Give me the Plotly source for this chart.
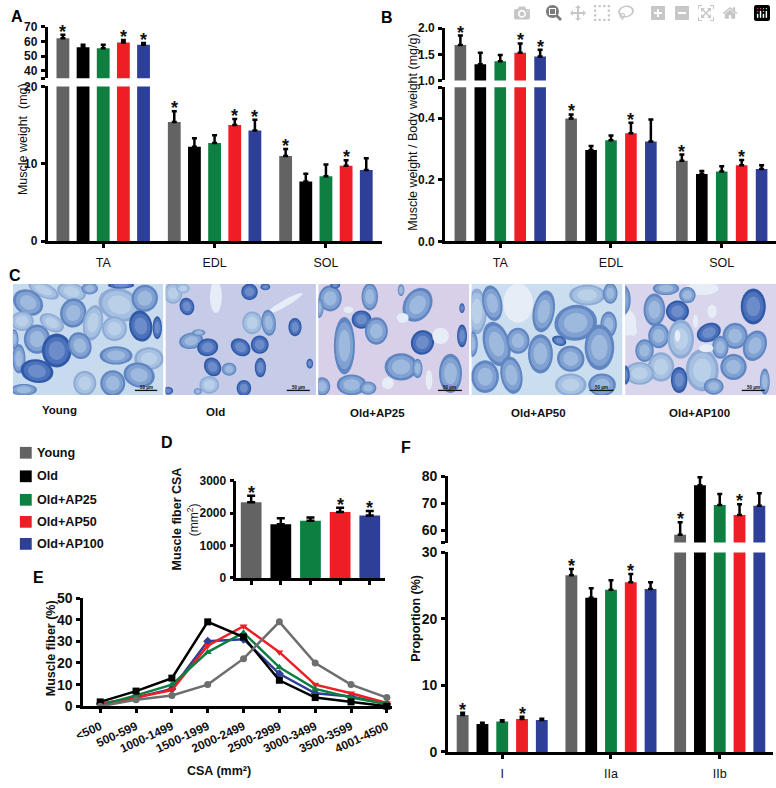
import math
import plotly.graph_objects as go

W, H = 776, 788
FONT = "Liberation Sans"

# ---------- shared ----------
series_names = ["Young", "Old", "Old+AP25", "Old+AP50", "Old+AP100"]
series_colors = ["#636363", "#000000", "#0d7f41", "#ed1f24", "#2e3f97"]
line_colors = ["#6e6e6e", "#000000", "#0d7f41", "#ed1f24", "#2e3f97"]
line_symbols = ["circle", "square", "triangle-up", "triangle-down", "diamond"]

# ---------- panel A ----------
muscles = ["TA", "EDL", "SOL"]
a_mean_young = [62.2, 15.4, 11.0]
a_mean_old = [56.2, 12.2, 7.7]
a_mean_ap25 = [55.5, 12.7, 8.4]
a_mean_ap50 = [59.3, 15.0, 9.75]
a_mean_ap100 = [57.8, 14.3, 9.2]
a_err_young = [2.5, 1.4, 0.9]
a_err_old = [1.6, 1.1, 1.0]
a_err_ap25 = [2.3, 1.0, 1.5]
a_err_ap50 = [1.7, 0.8, 0.7]
a_err_ap100 = [1.3, 1.4, 1.5]
a_stars = [[1, 0, 0, 1, 1], [1, 0, 0, 1, 1], [1, 0, 0, 1, 0]]

# ---------- panel B ----------
b_mean_young = [1.68, 0.399, 0.262]
b_mean_old = [1.31, 0.297, 0.219]
b_mean_ap25 = [1.37, 0.328, 0.227]
b_mean_ap50 = [1.53, 0.351, 0.247]
b_mean_ap100 = [1.46, 0.324, 0.235]
b_err_young = [0.18, 0.013, 0.02]
b_err_old = [0.22, 0.013, 0.01]
b_err_ap25 = [0.12, 0.016, 0.017]
b_err_ap50 = [0.18, 0.034, 0.017]
b_err_ap100 = [0.13, 0.072, 0.012]
b_stars = [[1, 0, 0, 1, 1], [1, 0, 0, 1, 0], [1, 0, 0, 1, 0]]

# ---------- panel D ----------
d_mean = [2343, 1657, 1768, 2040, 1929]
d_err = [200, 190, 100, 132, 141]
d_stars = [1, 0, 0, 1, 1]

# ---------- panel E ----------
csa_bins = ["<500", "500-599", "1000-1499", "1500-1999", "2000-2499",
            "2500-2999", "3000-3499", "3500-3599", "4001-4500"]
e_young = [0, 3, 5, 10, 22, 39, 20, 10, 4]
e_old = [2, 7, 13, 39, 32, 12, 4, 2, 0]
e_ap25 = [0.5, 5, 10, 25, 34, 18, 8, 4, 1]
e_ap50 = [1, 4, 7.5, 28, 37, 25, 10, 6, 1.5]
e_ap100 = [1, 4, 8, 30, 31, 15, 6, 4.5, 1]

# ---------- panel F ----------
fiber_types = ["I", "IIa", "IIb"]
f_mean_young = [5.55, 26.56, 58.4]
f_mean_old = [4.2, 23.2, 76.6]
f_mean_ap25 = [4.57, 24.4, 69.3]
f_mean_ap50 = [4.96, 25.5, 65.7]
f_mean_ap100 = [4.8, 24.5, 69.1]
f_err_young = [0.35, 0.95, 4.6]
f_err_old = [0.2, 1.4, 2.9]
f_err_ap25 = [0.2, 1.4, 4.1]
f_err_ap50 = [0.34, 1.25, 3.9]
f_err_ap100 = [0.2, 1.0, 4.6]
f_stars = [[1, 0, 0, 1, 0], [1, 0, 0, 1, 0], [1, 0, 0, 1, 0]]

# ---------- panel C: hand-traced fibres per micrograph ----------
# (cx, cy, rx, ry, angle, tone) in 3x crop coordinates of each picture
c_fibres_young = [
    (105,30,50,22,25,0),(58,68,48,38,30,1),(190,35,45,28,15,0),(245,25,25,18,0,1),(195,100,40,45,10,1),
    (335,75,65,50,20,0),(412,55,40,42,20,1),(400,140,35,48,-10,2),(255,130,30,55,10,0),(320,148,38,38,0,0),
    (40,125,35,30,0,0),(130,130,40,25,30,0),(85,180,40,45,0,1),(145,215,45,52,0,2),(215,200,35,42,-20,1),
    (30,240,20,45,0,1),(85,278,50,36,10,2),(325,230,50,28,0,1),(425,240,45,35,0,0),(395,290,48,38,15,1),
    (230,315,35,38,0,0),(315,315,38,40,0,1),(45,335,40,18,0,1),(15,180,14,30,0,1),(450,145,14,35,0,2),(340,15,40,10,0,2),
]
c_fibres_old = [
    (160,50,18,50,0,-1),(370,70,60,10,-30,-1),(30,40,28,32,0,0),(60,25,20,15,0,0),(270,130,30,35,0,0),
    (140,320,30,27,0,0),(72,80,22,27,-15,2),(262,35,25,25,20,2),(310,20,15,10,0,2),(320,130,22,40,-5,1),
    (400,143,20,28,0,2),(235,205,32,25,35,2),(293,197,27,28,0,2),(85,185,37,25,-10,1),(108,160,20,10,0,1),
    (135,205,32,27,-10,2),(150,265,25,30,-30,2),(200,272,22,20,0,1),(295,267,17,30,0,2),(245,330,22,25,0,2),
    (15,338,15,12,0,2),(105,340,12,10,0,1),(445,255,10,15,0,2),
]
c_fibres_ap25 = [
    (45,55,35,40,0,1),(10,85,15,30,0,1),(165,50,25,42,0,1),(140,120,30,28,0,2),(185,155,35,42,0,1),
    (88,200,32,88,0,1),(325,190,35,38,20,2),(310,75,42,55,30,1),(260,265,50,42,0,1),(110,320,45,32,0,1),
    (160,330,25,20,0,1),(20,325,25,28,0,1),(410,285,35,60,0,1),(445,170,15,35,0,2),(310,270,15,30,0,1),
    (445,85,8,15,0,2),(60,15,15,10,0,2),(260,30,10,18,0,1),
    (265,115,18,15,0,-1),(220,315,18,18,0,-1),(345,305,10,30,0,-1),(380,170,25,25,0,-1),(100,90,15,10,0,-1),
]
c_fibres_ap50 = [
    (150,70,45,60,0,-1),(25,95,30,70,0,0),(72,70,30,55,-10,1),(228,95,33,65,10,1),(360,45,55,32,0,0),
    (430,40,22,32,0,1),(325,130,65,55,-10,1),(425,135,25,40,0,1),(85,195,40,70,-15,1),(150,185,35,40,0,1),
    (218,225,38,60,0,1),(310,240,42,40,20,1),(397,205,45,70,0,1),(130,290,33,58,-10,1),(50,295,42,50,0,1),
    (10,195,18,40,0,1),(310,320,48,35,0,0),(405,320,42,35,0,1),(275,185,22,15,20,2),
]
c_fibres_ap100 = [
    (20,130,30,40,0,-1),(250,25,50,20,0,-1),(5,60,28,50,0,1),(105,90,33,50,0,1),(140,25,40,20,0,1),
    (205,45,25,25,0,1),(175,95,35,33,0,2),(118,170,32,38,0,1),(185,180,40,60,0,0),(270,160,38,28,-25,2),
    (350,170,38,40,0,1),(410,200,35,48,20,1),(405,80,38,55,0,2),(75,215,28,35,0,1),(305,205,25,35,0,1),
    (345,265,40,40,0,1),(250,275,50,65,0,0),(125,265,40,45,0,0),(60,285,45,35,0,0),(180,305,25,40,0,2),
    (15,290,15,30,0,2),(285,325,30,25,0,1),(440,310,15,40,0,1),
    (280,95,14,20,0,-1),(262,208,22,12,0,-1),(230,125,8,20,0,-1),(175,170,8,18,0,-1),(40,155,12,15,0,-1),(35,120,10,12,0,-1),
]

c_origin_x = [0, 156, 310, 465, 618]
c_left = [4, 158.5, 313, 468, 623.5]
c_right = [156, 310.5, 465.5, 620.5, 776]
c_bg = ["#c8dbee", "#c6cbe8", "#d8d0e8", "#cbdeef", "#d9d5ec"]
c_bar_from = [382, 375, 372, 367, 370]
c_bar_to = [450, 445, 445, 440, 440]
c_top, c_bottom, c_origin_y = 281.7, 395.0, 278
c_labels = series_names
c_label_x = [51, 209, 373, 536, 699]
c_label_y = [410.5, 412.5, 413, 413, 413]
TONES = {
    -1: ["#e6edf7", "#e6edf7", "#e6edf7"],
    0: ["#8eabd6", "#a6c0e1", "#bad0e9"],
    1: ["#5f86c2", "#80a1d1", "#9db9dd"],
    2: ["#2f59a8", "#4b72ba", "#6d8dca"],
}


def px(x):
    return x / W


def py(y):
    return 1 - y / H


traces, shapes, annotations = [], [], []
axes = {}
axis_count = [0]


def text(s, x, y, size, bold=False, angle=0, anchor="center", color="#111111"):
    annotations.append(dict(
        text=s, x=px(x), y=py(y), xref="paper", yref="paper", showarrow=False, textangle=angle,
        xanchor=anchor, yanchor="middle",
        font=dict(family=FONT, size=size, color=color, weight=700 if bold else 400)))


def new_axes(x0, x1, top, bottom, xopts, yopts):
    axis_count[0] += 1
    n = axis_count[0]
    xn, yn = f"x{n}", f"y{n}"
    base = dict(showgrid=False, zeroline=False, layer="above traces")
    axes[f"xaxis{n}"] = dict(base, domain=[px(x0), px(x1)], anchor=yn, **xopts)
    axes[f"yaxis{n}"] = dict(base, domain=[py(bottom), py(top)], anchor=xn, **yopts)
    return xn, yn


def y_opts(rng, vals, labels, size):
    return dict(range=rng, tickmode="array", tickvals=vals, ticktext=labels, ticks="outside", ticklen=4,
                tickwidth=2.5, linewidth=2.5, linecolor="#000", showline=True, tickcolor="#000",
                tickfont=dict(family=FONT, size=size, color="#111", weight=700), ticklabelstandoff=1)


def x_opts(cats, rng, size=12.5, show=True, standoff=4):
    return dict(type="category", categoryorder="array", categoryarray=cats, range=rng, tickmode="array",
                tickvals=list(range(len(cats))), ticktext=cats, ticks="outside", ticklen=4, tickwidth=2.5,
                linewidth=2.5, linecolor="#000", showline=True, tickcolor="#000", showticklabels=show,
                tickfont=dict(family=FONT, size=size, color="#111"), ticklabelstandoff=standoff)


def star(xn, yn, xpos, y, shift=-9):
    annotations.append(dict(text="*", x=xpos, y=y, xref=xn, yref=yn, showarrow=False, yanchor="bottom",
                            yshift=shift, xanchor="center",
                            font=dict(family=FONT, size=18, color="#111", weight=700)))


def broken_bars(cats, means, errs, stars, broken, x0, x1, xrange, low_top, low_bot, up_top, up_bot,
                low_axis, up_axis, step, width, tick_size):
    xl, yl = new_axes(x0, x1, low_top, low_bot, x_opts(cats, xrange),
                      y_opts(low_axis[0], low_axis[1], low_axis[2], tick_size))
    xu, yu = new_axes(x0, x1, up_top, up_bot, dict(x_opts(cats, xrange), visible=False),
                      y_opts(up_axis[0], up_axis[1], up_axis[2], tick_size))
    for s, name in enumerate(series_names):
        off = (s - 2) * step
        m, e = means[s], errs[s]
        for xn, yn, keep in ((xl, yl, [i != broken for i in range(3)]), (xu, yu, [i == broken for i in range(3)])):
            traces.append(go.Bar(
                x=cats, y=m if yn == yl else [v if k else None for v, k in zip(m, keep)],
                name=name, xaxis=xn, yaxis=yn, width=width, offset=off - width / 2,
                marker=dict(color=series_colors[s], line=dict(width=0)), showlegend=False,
                error_y=dict(type="data", symmetric=False, array=[v if k else 0 for v, k in zip(e, keep)],
                             arrayminus=[0, 0, 0], thickness=2.5, width=2.5, color="#000")))
        for c in range(3):
            if stars[c][s]:
                xn, yn = (xu, yu) if c == broken else (xl, yl)
                star(xn, yn, c + off, m[c] + e[c])


# ---------- A ----------
broken_bars(muscles,
            [a_mean_young, a_mean_old, a_mean_ap25, a_mean_ap50, a_mean_ap100],
            [a_err_young, a_err_old, a_err_ap25, a_err_ap50, a_err_ap100], a_stars, 0,
            39, 377, [-0.5, 2.5], 80, 238, 19.3, 71.7,
            ([0, 20], [0, 10, 20], ["0", "10", "20"]),
            ([35, 70], [35, 40, 50, 60, 70], ["", "40", "50", "60", "70"]),
            0.181, 0.115, 12)
# ---------- B ----------
broken_bars(muscles,
            [b_mean_young, b_mean_old, b_mean_ap25, b_mean_ap50, b_mean_ap100],
            [b_err_young, b_err_old, b_err_ap25, b_err_ap50, b_err_ap100], b_stars, 0,
            441, 776, [-0.5, 2.49], 81, 238.3, 20.7, 74,
            ([0, 0.5], [0, 0.2, 0.4, 0.5], ["0.0", "0.2", "0.4", ""]),
            ([1, 2], [1, 1.5, 2], ["1.0", "1.5", "2.0"]),
            0.18, 0.105, 12)
# ---------- F ----------
broken_bars(fiber_types,
            [f_mean_young, f_mean_old, f_mean_ap25, f_mean_ap50, f_mean_ap100],
            [f_err_young, f_err_old, f_err_ap25, f_err_ap50, f_err_ap100], f_stars, 2,
            444, 773, [-0.5, 2.49], 555.7, 759.3, 477.7, 545.7,
            ([0, 30], [0, 10, 20, 30], ["0", "10", "20", "30"]),
            ([55.5, 80], [55.5, 60, 70, 80], ["", "60", "70", "80"]),
            0.182, 0.109, 14)

# ---------- D ----------
xd, yd = new_axes(230, 380, 482.7, 581.7, x_opts(series_names, [-0.5, 4.5], show=False),
                  y_opts([0, 3000], [0, 1000, 2000, 3000], ["0", "1000", "2000", "3000"], 12))
traces.append(go.Bar(x=series_names, y=d_mean, xaxis=xd, yaxis=yd, width=0.7, showlegend=False,
                     marker=dict(color=series_colors, line=dict(width=0)),
                     error_y=dict(type="data", symmetric=False, array=d_err, arrayminus=[0] * 5,
                                  thickness=2.5, width=4, color="#000")))
for i, flag in enumerate(d_stars):
    if flag:
        star(xd, yd, i, d_mean[i] + d_err[i])

# ---------- E ----------
xe, ye = new_axes(75, 387, 602.3, 712.7,
                  dict(x_opts(csa_bins, [-0.477, 8.13], size=12, standoff=2), tickangle=-25),
                  y_opts([0, 50], [0, 10, 20, 30, 40, 50], ["0", "10", "20", "30", "40", "50"], 14))
axes[xe.replace("x", "xaxis")]["tickfont"]["weight"] = 700
for s, vals in [(4, e_ap100), (3, e_ap50), (2, e_ap25), (1, e_old), (0, e_young)]:
    traces.append(go.Scatter(x=csa_bins, y=vals, mode="lines+markers", name=series_names[s], xaxis=xe, yaxis=ye,
                             showlegend=False, cliponaxis=False,
                             line=dict(color=line_colors[s], width=2.5),
                             marker=dict(symbol=line_symbols[s], size=7, color=line_colors[s])))

# ---------- C micrographs ----------
def ellipse(cx, cy, rx, ry, deg, left, right):
    a = math.radians(deg)
    pts = []
    for k in range(28):
        t = 2 * math.pi * k / 28
        ex, ey = rx * math.cos(t), ry * math.sin(t)
        x = cx + ex * math.cos(a) - ey * math.sin(a)
        y = cy + ex * math.sin(a) + ey * math.cos(a)
        pts.append((min(max(x, left), right), min(max(y, c_top), c_bottom)))
    return "M " + " L ".join(f"{px(x):.5f},{py(y):.5f}" for x, y in pts) + " Z"


fibres = [c_fibres_young, c_fibres_old, c_fibres_ap25, c_fibres_ap50, c_fibres_ap100]
for p, fib in enumerate(fibres):
    left, right = c_left[p], c_right[p]
    shapes.append(dict(type="rect", xref="paper", yref="paper", x0=px(left), x1=px(right), y0=py(c_bottom), y1=py(c_top),
                       fillcolor=c_bg[p], line=dict(width=0), layer="below"))
    for cx, cy, rx, ry, deg, tone in fib:
        X = c_origin_x[p] + cx / 3
        Y = c_origin_y + cy / 3
        for scale, col in zip((1.0, 0.82, 0.55), TONES[tone]):
            shapes.append(dict(type="path", xref="paper", yref="paper",
                               path=ellipse(X, Y, scale * rx / 3, scale * ry / 3, deg, left, right),
                               fillcolor=col, line=dict(width=0), layer="below"))
    bar_y = c_origin_y + 337 / 3
    shapes.append(dict(type="line", xref="paper", yref="paper", x0=px(c_origin_x[p] + c_bar_from[p] / 3),
                       x1=px(c_origin_x[p] + c_bar_to[p] / 3), y0=py(bar_y), y1=py(bar_y),
                       line=dict(color="#111", width=1.3), layer="below"))
    text("50 μm", c_origin_x[p] + (c_bar_from[p] + c_bar_to[p]) / 6, bar_y - 3, 4.5, True)
    text(c_labels[p], c_label_x[p], c_label_y[p], 11.5, True)

# ---------- legend ----------
legend_y = [454, 478, 502, 524.5, 547]
for i, name in enumerate(series_names):
    shapes.append(dict(type="rect", xref="paper", yref="paper", x0=px(11), x1=px(23), y0=py(legend_y[i] + 6),
                       y1=py(legend_y[i] - 6), fillcolor=series_colors[i], line=dict(width=0), layer="below"))
    text(name, 26.5, legend_y[i], 12.6, True, anchor="left")

# ---------- free texts ----------
text("Muscle weight  (mg)", 14, 134, 12.5, angle=-90)
text("Muscle weight / Body weight (mg/g)", 409, 127, 12.5, angle=-90)
text("Muscle fiber CSA", 170, 522, 12.5, True, angle=-90)
text("(mm<sup>2</sup>)", 187, 522, 12, False, angle=-90)
text("Muscle fiber (%)", 42, 654, 12.5, True, angle=-90)
text("CSA (mm²)", 212, 778.5, 12.5, True)
text("Proportion (%)", 411.5, 622.7, 12.5, True, angle=-90)
for letter, lx, ly in [("A", 8, 9), ("B", 382, 10), ("C", 6, 273), ("D", 160, 444), ("E", 30, 581), ("F", 402, 449)]:
    text(letter, lx, ly, 16, True, color="#000")

fig = go.Figure(data=traces)
fig.update_layout(
    width=W, height=H, autosize=False, margin=dict(l=0, r=0, t=0, b=0), paper_bgcolor="white",
    plot_bgcolor="white", barmode="overlay", shapes=shapes, annotations=annotations,
    font=dict(family=FONT), showlegend=False, **axes)
fig.write_html("out.html", post_script="document.body.style.margin='0';")
